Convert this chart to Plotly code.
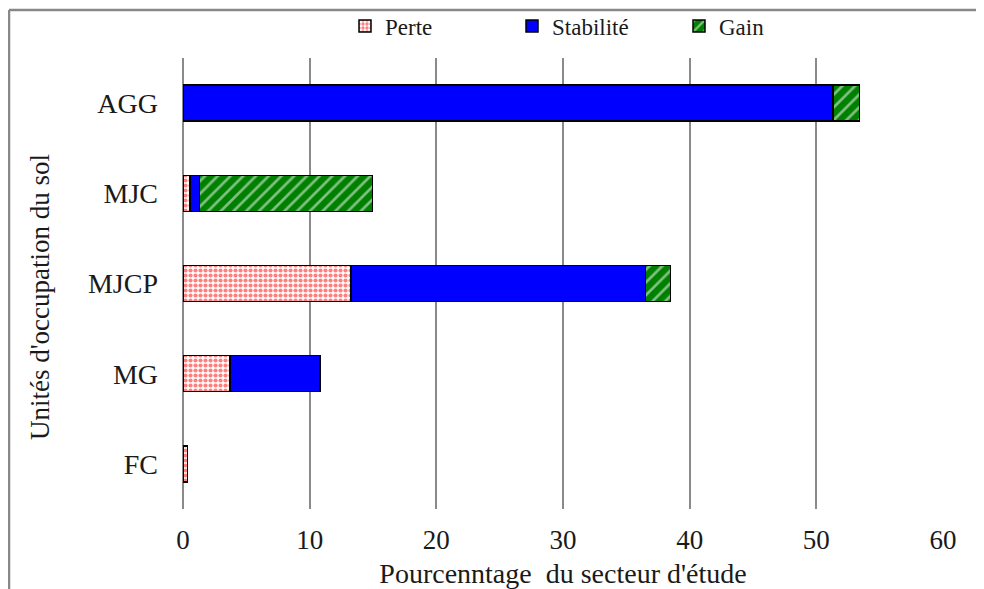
import plotly.graph_objects as go

categories = ["AGG", "MJC", "MJCP", "MG", "FC"]
perte = [0.0, 0.55, 13.25, 3.72, 0.35]
stabilite = [51.3, 0.74, 23.25, 7.08, 0.0]
gain = [2.1, 13.66, 2.0, 0.0, 0.0]
series_names = ["Perte", "Stabilité", "Gain"]
x_ticks = [0, 10, 20, 30, 40, 50, 60]
y_title = "Unités d'occupation du sol"
x_title = "Pourcenntage  du secteur d'étude"

SERIF = "Liberation Serif, Times New Roman, serif"
W, H = 984, 589
L, R, T, B = 175, 49, 50, 88
pw, ph = W - L - R, H - T - B

fig = go.Figure()
fig.add_trace(go.Bar(
    y=categories, x=perte, name=series_names[0], orientation="h",
    marker=dict(color="white", line=dict(color="black", width=1.5),
                pattern=dict(shape=".", fgcolor="#FF0000", bgcolor="white",
                             size=5, solidity=0.55)),
))
fig.add_trace(go.Bar(
    y=categories, x=stabilite, name=series_names[1], orientation="h",
    marker=dict(color="#0000FF", line=dict(color="black", width=1.5)),
))
fig.add_trace(go.Bar(
    y=categories, x=gain, name=series_names[2], orientation="h",
    marker=dict(color="#008000", line=dict(color="black", width=1.5),
                pattern=dict(shape="/", fgcolor="white", bgcolor="#008000",
                             size=9, solidity=0.3)),
))

fig.update_layout(
    width=W, height=H,
    margin=dict(l=L, r=R, t=T, b=B, autoexpand=False),
    barmode="stack", bargap=0.6,
    paper_bgcolor="white", plot_bgcolor="white",
    font=dict(family=SERIF, size=27, color="#1a1a1a"),
    legend=dict(orientation="h", x=(345 - 8 - L) / pw, xanchor="left",
                y=1.0 + (T - 18) / ph, yanchor="middle",
                font=dict(size=23, family=SERIF),
                bgcolor="rgba(0,0,0,0)",
                entrywidth=122, entrywidthmode="pixels", traceorder="normal"),
    xaxis=dict(range=[0, 60], tickvals=x_ticks, showgrid=True, gridcolor="#8a8a8a",
               gridwidth=1.5, zeroline=True, zerolinecolor="#8a8a8a", zerolinewidth=1.5,
               showline=False, ticks="", tickfont=dict(size=27, family=SERIF),
               ticklabelstandoff=12,
               title=dict(text=x_title, font=dict(size=28, family=SERIF), standoff=9)),
    yaxis=dict(categoryorder="array", categoryarray=categories[::-1],
               range=[-0.5, 4.5], showgrid=False, zeroline=False, showline=False,
               ticks="", tickfont=dict(size=28, family=SERIF), ticklabelstandoff=24),
    annotations=[
        dict(text=y_title, textangle=-90, xref="paper", yref="paper",
             x=(40 - 8 - L) / pw, y=(H - B - (297 - 8)) / ph,
             xanchor="center", yanchor="middle", showarrow=False,
             font=dict(size=27, family=SERIF, color="#1a1a1a")),
    ],
    shapes=[
        dict(type="line", xref="paper", yref="paper",
             x0=(1 - L) / pw, x1=1.2, y0=(H - B - 2) / ph, y1=(H - B - 2) / ph,
             line=dict(color="#888888", width=2.5)),
        dict(type="line", xref="paper", yref="paper",
             x0=(1 - L) / pw, x1=(1 - L) / pw, y0=(H - B - 2) / ph, y1=-0.3,
             line=dict(color="#888888", width=2.5)),
    ],
)

fig.write_html("out.html")
